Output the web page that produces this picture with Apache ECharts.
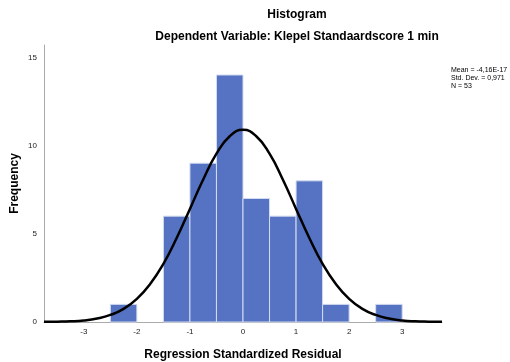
<!DOCTYPE html>
<html>
<head>
<meta charset="utf-8">
<script src="https://cdn.jsdelivr.net/npm/echarts@6/dist/echarts.min.js"></script>
<style>
  html, body { margin: 0; padding: 0; background: #fff; }
  #main { width: 510px; height: 362px; }
</style>
</head>
<body>
<div id="main"></div>
<script>
// histogram bins (lower edge, upper edge) and counts
var binLo = [-2.5, -2.0, -1.5, -1.0, -0.5, 0.0, 0.5, 1.0, 1.5, 2.0, 2.5];
var binHi = [-2.0, -1.5, -1.0, -0.5, 0.0, 0.5, 1.0, 1.5, 2.0, 2.5, 3.0];
var counts = [1, 0, 6, 9, 14, 7, 6, 8, 1, 0, 1];

// normal curve, points
var curveX = [-3.75, -3.5, -3.25, -3.0, -2.75, -2.5, -2.25, -2.0, -1.75, -1.5, -1.25, -1.0, -0.75, -0.5, -0.25, 0.0,
              0.25, 0.5, 0.75, 1.0, 1.25, 1.5, 1.75, 2.0, 2.25, 2.5, 2.75, 3.0, 3.25, 3.5, 3.75];
var curveY = [0.01, 0.02, 0.04, 0.09, 0.2, 0.4, 0.74, 1.31, 2.15, 3.3, 4.76, 6.41, 8.08, 9.54, 10.53, 10.89,
              10.53, 9.54, 8.08, 6.41, 4.76, 3.3, 2.15, 1.31, 0.74, 0.4, 0.2, 0.09, 0.04, 0.02, 0.01];

var xTicks = [-3, -2, -1, 0, 1, 2, 3];
var yTicks = [0, 5, 10, 15];

var chart = echarts.init(document.getElementById('main'));

var barData = [];
for (var i = 0; i < counts.length; i++) {
  barData.push([binLo[i], binHi[i], counts[i]]);
}
var lineData = [];
for (var j = 0; j < curveX.length; j++) {
  lineData.push([curveX[j], curveY[j]]);
}

var option = {
  animation: false,
  textStyle: { fontFamily: 'Liberation Sans, Arial, sans-serif' },
  title: [
    {
      text: 'Histogram',
      left: 292, top: 4, textAlign: 'center',
      textStyle: { fontSize: 12, fontWeight: 'bold', color: '#000' }
    },
    {
      text: 'Dependent Variable: Klepel Standaardscore 1 min',
      left: 292, top: 26, textAlign: 'center',
      textStyle: { fontSize: 12, fontWeight: 'bold', color: '#000' }
    },
    {
      text: 'Mean = -4,16E-17\nStd. Dev. = 0,971\nN = 53',
      left: 446, top: 61,
      textStyle: { fontSize: 7, fontWeight: 'normal', color: '#000', lineHeight: 8 }
    }
  ],
  grid: { left: 44, right: 68, top: 45, bottom: 40, outerBoundsMode: 'none' },
  xAxis: {
    type: 'value',
    min: -3.75, max: 3.75,
    name: 'Regression Standardized Residual',
    nameLocation: 'middle',
    nameGap: 27,
    nameTextStyle: { fontSize: 12, fontWeight: 'bold', color: '#000' },
    axisLine: { onZero: false, lineStyle: { color: '#aaa', width: 1 } },
    axisTick: { show: false },
    splitLine: { show: false },
    axisLabel: { fontSize: 8, color: '#222', margin: 6, customValues: xTicks }
  },
  yAxis: {
    type: 'value',
    min: 0, max: 15.7,
    name: 'Frequency',
    nameLocation: 'middle',
    nameGap: 23,
    nameMoveOverlap: false,
    nameTextStyle: { fontSize: 12, fontWeight: 'bold', color: '#000' },
    axisLine: { show: true, onZero: false, lineStyle: { color: '#aaa', width: 1 } },
    axisTick: { show: false },
    splitLine: { show: false },
    axisLabel: { fontSize: 8, color: '#222', margin: 7, customValues: yTicks }
  },
  series: [
    {
      type: 'custom',
      data: barData,
      encode: { x: [0, 1], y: 2 },
      renderItem: function (params, api) {
        var h = api.value(2);
        if (h <= 0) return null;
        var p0 = api.coord([api.value(0), h]);
        var p1 = api.coord([api.value(1), 0]);
        return {
          type: 'rect',
          shape: { x: p0[0], y: p0[1], width: p1[0] - p0[0], height: p1[1] - p0[1] },
          style: { fill: '#5573c2', stroke: '#d4ddf0', lineWidth: 1 }
        };
      }
    },
    {
      type: 'line',
      data: lineData,
      smooth: true,
      symbol: 'none',
      lineStyle: { color: '#000', width: 2.5 },
      z: 5
    }
  ]
};

chart.setOption(option);
</script>
</body>
</html>
